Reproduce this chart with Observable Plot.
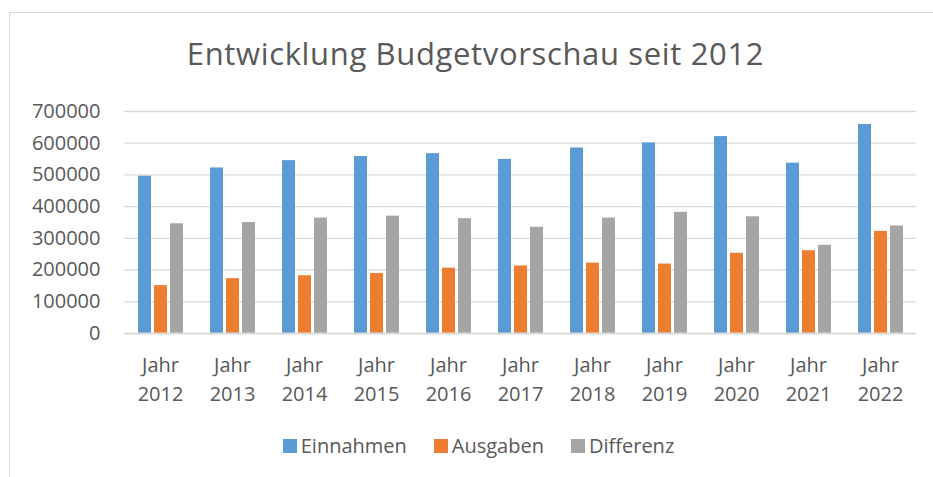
<!DOCTYPE html>
<html>
<head>
<meta charset="utf-8">
<script src="https://cdn.jsdelivr.net/npm/d3@7"></script>
<script src="https://cdn.jsdelivr.net/npm/@observablehq/plot@0.6"></script>
<style>
  html, body { margin: 0; padding: 0; background: #fff; overflow: hidden; }
  #wrap { position: relative; width: 933px; height: 477px; overflow: hidden; font-family: "Open Sans", sans-serif; color: #595959; }
  #border { position: absolute; left: 9px; top: 12px; width: 960px; height: 500px; border: 1px solid #d9d9d9; box-sizing: border-box; }
  #title { position: absolute; top: 33px; left: 0; width: 951px; text-align: center; font-size: 31px; letter-spacing: 0.65px; line-height: 40px; color: #595959; white-space: nowrap; }
  #chart { position: absolute; left: 0; top: 0; }
  #legend { position: absolute; top: 433px; left: 0; width: 957px; display: flex; justify-content: center; gap: 27px; font-size: 20px; line-height: 26px; }
  .item { display: flex; align-items: center; gap: 4px; }
  .sw { width: 14px; height: 14px; display: inline-block; }
</style>
</head>
<body>
<div id="wrap">
  <div id="border"></div>
  <div id="title"></div>
  <div id="chart"></div>
  <div id="legend"></div>
</div>
<script>
const titleText = "Entwicklung Budgetvorschau seit 2012";
const categories = ["Jahr 2012", "Jahr 2013", "Jahr 2014", "Jahr 2015", "Jahr 2016", "Jahr 2017", "Jahr 2018", "Jahr 2019", "Jahr 2020", "Jahr 2021", "Jahr 2022"];
const seriesNames = ["Einnahmen", "Ausgaben", "Differenz"];
const seriesColors = ["#5b9bd5", "#ed7d31", "#a5a5a5"];
const einnahmen = [496000, 522000, 545000, 558000, 567000, 549000, 585000, 601000, 621000, 537000, 659000];
const ausgaben  = [151000, 173000, 182000, 189000, 206000, 213000, 222000, 219000, 253000, 261000, 322000];
const differenz = [346000, 350000, 364000, 370000, 362000, 335000, 364000, 382000, 368000, 278000, 339000];
const yTicks = [0, 100000, 200000, 300000, 400000, 500000, 600000, 700000];

const seriesValues = [einnahmen, ausgaben, differenz];
const rows = [];
categories.forEach((c, i) => {
  seriesNames.forEach((s, j) => rows.push({category: c, series: s, value: seriesValues[j][i]}));
});

document.getElementById("title").textContent = titleText;

const chart = Plot.plot({
  width: 933,
  height: 420,
  marginTop: 111,
  marginBottom: 87,
  marginLeft: 122,
  marginRight: 16,
  style: { fontFamily: "Open Sans, sans-serif", fontSize: "20px", color: "#595959", background: "transparent", overflow: "visible" },
  fx: { domain: categories, padding: 0, label: null },
  x: { domain: seriesNames, paddingInner: 0.21, paddingOuter: 0.85, axis: null },
  y: { domain: [0, 700000], label: null },
  color: { domain: seriesNames, range: seriesColors },
  marks: [
    Plot.gridY(yTicks.filter(d => d > 0), { stroke: "#d9d9d9", strokeOpacity: 1, strokeWidth: 1.3 }),
    Plot.barY(rows, { fx: "category", x: "series", y: "value", fill: "series" }),
    Plot.ruleY([0], { stroke: "#d9d9d9", strokeWidth: 2 }),
    Plot.axisY({ ticks: yTicks, tickSize: 0, tickPadding: 24, tickFormat: d => String(d), label: null, fontSize: 20, fill: "#595959" }),
    Plot.axisFx({ anchor: "bottom", tickSize: 0, tickPadding: 18, tickFormat: d => d.replace(" ", "\n"), lineHeight: 1.45, label: null, fontSize: 20, fill: "#595959" })
  ]
});
document.getElementById("chart").appendChild(chart);

const legend = document.getElementById("legend");
seriesNames.forEach((s, i) => {
  const item = document.createElement("div");
  item.className = "item";
  const sw = document.createElement("span");
  sw.className = "sw";
  sw.style.background = seriesColors[i];
  const t = document.createElement("span");
  t.textContent = s;
  item.appendChild(sw);
  item.appendChild(t);
  legend.appendChild(item);
});
</script>
</body>
</html>
